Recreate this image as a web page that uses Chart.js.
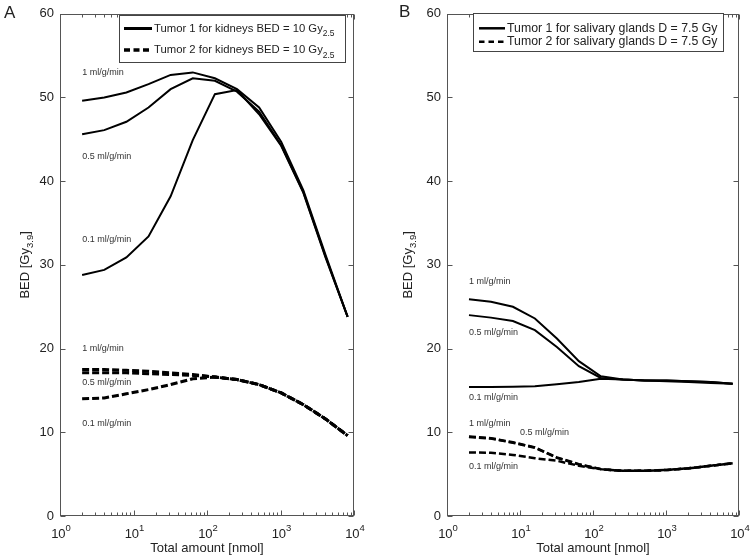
<!DOCTYPE html>
<html><head><meta charset="utf-8">
<script src="https://cdn.jsdelivr.net/npm/chart.js@4/dist/chart.umd.min.js"></script>
<style>
html,body{margin:0;padding:0;background:#fff;}
#wrap{position:relative;width:753px;height:558px;overflow:hidden;}
canvas{position:absolute;left:0;top:0;}
</style>
</head><body>
<div id="wrap"><canvas id="ca" width="753" height="558"></canvas><canvas id="cb" width="753" height="558"></canvas></div>
<script>
// ---------- data ----------
const amounts = [2, 4, 8, 16, 32, 64, 128, 256, 512, 1024, 2048, 4096, 8192];

// Panel A – Tumor 1 (solid), kidneys BED = 10 Gy2.5
const aT1_1  = [49.6, 50.0, 50.6, 51.6, 52.7, 53.0, 52.3, 51.0, 48.8, 44.7, 38.9, 31.2, 23.8];
const aT1_05 = [45.6, 46.1, 47.1, 48.8, 51.0, 52.3, 52.0, 50.7, 48.3, 44.3, 38.7, 31.0, 23.8];
const aT1_01 = [28.8, 29.4, 30.9, 33.4, 38.2, 44.9, 50.4, 50.9, 48.0, 44.2, 38.6, 30.9, 23.8];
// Panel A – Tumor 2 (dashed)
const aT2_1  = [17.5, 17.5, 17.4, 17.3, 17.1, 16.9, 16.6, 16.3, 15.7, 14.7, 13.3, 11.6, 9.6];
const aT2_05 = [17.1, 17.1, 17.1, 17.0, 16.9, 16.8, 16.6, 16.3, 15.7, 14.7, 13.3, 11.6, 9.6];
const aT2_01 = [14.0, 14.1, 14.6, 15.1, 15.7, 16.4, 16.6, 16.3, 15.7, 14.7, 13.3, 11.6, 9.6];

// Panel B – Tumor 1 (solid), salivary glands D = 7.5 Gy
const bT1_1  = [25.9, 25.6, 25.0, 23.6, 21.2, 18.5, 16.7, 16.3, 16.2, 16.2, 16.1, 16.0, 15.8];
const bT1_05 = [24.0, 23.7, 23.3, 22.2, 20.2, 17.9, 16.5, 16.3, 16.2, 16.2, 16.1, 16.0, 15.8];
const bT1_01 = [15.4, 15.4, 15.45, 15.5, 15.75, 16.0, 16.4, 16.3, 16.2, 16.1, 16.0, 15.9, 15.8];
// Panel B – Tumor 2 (dashed)
const bT2_1  = [9.5, 9.3, 8.8, 8.2, 7.0, 6.2, 5.6, 5.4, 5.4, 5.5, 5.7, 6.0, 6.3];
const bT2_05 = [9.45, 9.25, 8.75, 8.15, 6.95, 6.15, 5.6, 5.4, 5.4, 5.5, 5.7, 6.0, 6.3];
const bT2_01 = [7.6, 7.55, 7.3, 6.9, 6.6, 6.0, 5.6, 5.4, 5.4, 5.5, 5.7, 6.0, 6.3];

// ticks
const yTicks = [0, 10, 20, 30, 40, 50, 60];
const xMajorTicks = [1, 10, 100, 1000, 10000];
const xTickBase = ['10', '10', '10', '10', '10'];
const xTickExp = ['0', '1', '2', '3', '4'];

// curve annotations (text, x value, y value)
const annoTextA = ['1 ml/g/min', '0.5 ml/g/min', '0.1 ml/g/min', '1 ml/g/min', '0.5 ml/g/min', '0.1 ml/g/min'];
const annoXA = [2, 2, 2, 2, 2, 2];
const annoYA = [53.0, 43.0, 33.0, 20.0, 15.9, 11.0];
const annoTextB = ['1 ml/g/min', '0.5 ml/g/min', '0.1 ml/g/min', '1 ml/g/min', '0.5 ml/g/min', '0.1 ml/g/min'];
const annoXB = [2, 2, 2, 2, 10, 2];
const annoYB = [28.0, 21.9, 14.1, 11.0, 9.95, 5.95];

// legend texts
const legendA = [['Tumor 1 for kidneys BED = 10 Gy', '2.5'], ['Tumor 2 for kidneys BED = 10 Gy', '2.5']];
const legendB = [['Tumor 1 for salivary glands D = 7.5 Gy', ''], ['Tumor 2 for salivary glands D = 7.5 Gy', '']];

const xTitle = 'Total amount [nmol]';
const yTitleMain = 'BED [Gy';
const yTitleSub = '3.9';
const yTitleEnd = ']';

// ---------- drawing ----------
const FF = "'Liberation Sans', Arial, Helvetica, sans-serif";
Chart.defaults.font.family = FF;

function pts(arr) { return amounts.map((x, i) => ({x: x, y: arr[i]})); }

const panelPlugin = {
  id: 'panel',
  afterDraw(chart) {
    const o = chart.options.plugins.panel;
    const ctx = chart.ctx, ca = chart.chartArea, xs = chart.scales.x, ys = chart.scales.y;
    ctx.save();
    const L = Math.round(ca.left) + 0.5, R = Math.round(ca.right) - 0.5;
    const T = Math.round(ca.top) + 0.5, B = Math.round(ca.bottom) - 0.5;
    ctx.strokeStyle = '#555'; ctx.lineWidth = 1; ctx.setLineDash([]);
    ctx.strokeRect(L, T, R - L, B - T);
    ctx.beginPath();
    // x ticks major + minor (bottom and top, inward)
    xMajorTicks.forEach((v, k) => {
      const px = Math.round(xs.getPixelForValue(v)) + 0.5;
      ctx.moveTo(px, B); ctx.lineTo(px, B - 5);
      ctx.moveTo(px, T); ctx.lineTo(px, T + 5);
      if (k < xMajorTicks.length - 1) {
        for (let m = 2; m <= 9; m++) {
          const p = Math.round(xs.getPixelForValue(v * m)) + 0.5;
          ctx.moveTo(p, B); ctx.lineTo(p, B - 3);
          ctx.moveTo(p, T); ctx.lineTo(p, T + 3);
        }
      }
    });
    yTicks.forEach(v => {
      const py = Math.round(ys.getPixelForValue(v)) + 0.5;
      ctx.moveTo(L, py); ctx.lineTo(L + 5, py);
      ctx.moveTo(R, py); ctx.lineTo(R - 5, py);
    });
    ctx.stroke();

    // x tick labels with superscripts
    ctx.fillStyle = '#222'; ctx.textBaseline = 'alphabetic'; ctx.textAlign = 'left';
    xMajorTicks.forEach((v, k) => {
      const px = xs.getPixelForValue(v);
      ctx.font = '13px ' + FF; const w1 = ctx.measureText(xTickBase[k]).width;
      ctx.font = '9.5px ' + FF; const w2 = ctx.measureText(xTickExp[k]).width;
      const s = px - (w1 + w2) / 2 + 1;
      ctx.font = '13px ' + FF; ctx.fillText(xTickBase[k], s, ca.bottom + 21.5);
      ctx.font = '9.5px ' + FF; ctx.fillText(xTickExp[k], s + w1, ca.bottom + 14.5);
    });
    // x title
    ctx.font = '13px ' + FF; ctx.textAlign = 'center'; ctx.textBaseline = 'middle';
    ctx.fillText(xTitle, (ca.left + ca.right) / 2, ca.bottom + 32);
    // y title (rotated)
    ctx.save();
    ctx.translate(ca.left - o.yTitleOffset, (ca.top + ca.bottom) / 2);
    ctx.rotate(-Math.PI / 2);
    ctx.textAlign = 'left'; ctx.textBaseline = 'middle';
    ctx.font = '13px ' + FF; const m1 = ctx.measureText(yTitleMain).width;
    ctx.font = '9.5px ' + FF; const m2 = ctx.measureText(yTitleSub).width;
    ctx.font = '13px ' + FF; const m3 = ctx.measureText(yTitleEnd).width;
    let sx = -(m1 + m2 + m3) / 2;
    ctx.fillText(yTitleMain, sx, 0);
    ctx.font = '9.5px ' + FF; ctx.fillText(yTitleSub, sx + m1, 5);
    ctx.font = '13px ' + FF; ctx.fillText(yTitleEnd, sx + m1 + m2, 0);
    ctx.restore();

    // annotations
    ctx.font = '9px ' + FF; ctx.fillStyle = '#333'; ctx.textAlign = 'left'; ctx.textBaseline = 'middle';
    o.annoText.forEach((t, i) => {
      ctx.fillText(t, xs.getPixelForValue(o.annoX[i]), ys.getPixelForValue(o.annoY[i]));
    });

    // legend
    const lg = o.legend;
    ctx.fillStyle = '#fff'; ctx.fillRect(lg.x, lg.y, lg.w, lg.h);
    ctx.strokeStyle = '#444'; ctx.lineWidth = 1;
    ctx.strokeRect(lg.x + 0.5, lg.y + 0.5, lg.w, lg.h);
    lg.rows.forEach((r, i) => {
      ctx.beginPath(); ctx.strokeStyle = '#000';
      ctx.lineWidth = lg.lw[i]; ctx.setLineDash(lg.dash[i]);
      ctx.moveTo(lg.s0, lg.ry[i]); ctx.lineTo(lg.s1, lg.ry[i]); ctx.stroke();
      ctx.setLineDash([]);
      ctx.fillStyle = '#222'; ctx.textBaseline = 'middle'; ctx.textAlign = 'left';
      ctx.font = lg.fs + 'px ' + FF;
      ctx.fillText(r[0], lg.tx, lg.ry[i]);
      if (r[1]) {
        const w = ctx.measureText(r[0]).width;
        ctx.font = (lg.fs * 0.75) + 'px ' + FF;
        ctx.fillText(r[1], lg.tx + w, lg.ry[i] + 5.5);
      }
    });

    // panel letter
    ctx.font = '17px ' + FF; ctx.fillStyle = '#222'; ctx.textAlign = 'left'; ctx.textBaseline = 'middle';
    ctx.fillText(o.letter, o.letterX, o.letterY);
    ctx.restore();
  }
};

function ds(arr, dashed, w) {
  return { data: pts(arr), borderColor: '#000', borderWidth: w, borderDash: dashed ? [7, 3] : [],
           pointRadius: 0, tension: 0, fill: false };
}

function makeChart(id, datasets, padL, padR, panel) {
  return new Chart(document.getElementById(id), {
    type: 'line',
    data: { datasets: datasets },
    plugins: [panelPlugin],
    options: {
      responsive: false, animation: false, devicePixelRatio: 1,
      layout: { padding: { left: padL, right: padR, top: 10, bottom: 0 } },
      plugins: { legend: { display: false }, tooltip: { enabled: false }, panel: panel },
      scales: {
        x: { type: 'logarithmic', min: 1, max: 10000,
             grid: { display: false, drawTicks: false }, border: { display: false },
             ticks: { display: false },
             afterFit: s => { s.height = 42; } },
        y: { type: 'linear', min: 0, max: 60,
             grid: { display: false, drawTicks: false }, border: { display: false },
             ticks: { stepSize: 10, padding: 6, color: '#222', font: { size: 13 } },
             afterFit: s => { s.width = 60; } }
      }
    }
  });
}

makeChart('ca', [
  ds(aT1_1, false, 2), ds(aT1_05, false, 2), ds(aT1_01, false, 2),
  ds(aT2_1, true, 3), ds(aT2_05, true, 3), ds(aT2_01, true, 3)
], 0, 399, {
  letter: 'A', letterX: 4, letterY: 13, yTitleOffset: 35,
  annoText: annoTextA, annoX: annoXA, annoY: annoYA,
  legend: { x: 119, y: 15, w: 226, h: 47, s0: 124, s1: 152, tx: 154, ry: [28.5, 50],
            lw: [3, 3.5], dash: [[], [6, 3.5]], fs: 11.3, rows: legendA }
});

makeChart('cb', [
  ds(bT1_1, false, 2), ds(bT1_05, false, 2), ds(bT1_01, false, 2),
  ds(bT2_1, true, 2.5), ds(bT2_05, true, 2.5), ds(bT2_01, true, 2.5)
], 387, 14, {
  letter: 'B', letterX: 399, letterY: 12, yTitleOffset: 39,
  annoText: annoTextB, annoX: annoXB, annoY: annoYB,
  legend: { x: 473, y: 13, w: 250, h: 38, s0: 479, s1: 505, tx: 507, ry: [28.3, 41.7],
            lw: [2.5, 2.5], dash: [[], [5.5, 4]], fs: 12.3, rows: legendB }
});
</script>
</body></html>
